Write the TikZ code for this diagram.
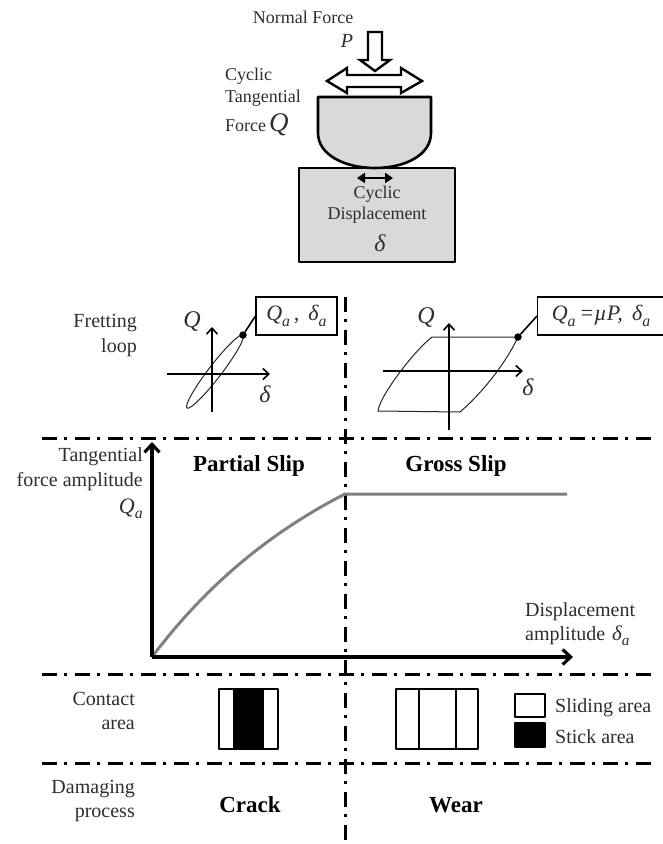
\documentclass[tikz,border=0pt]{standalone}
\usepackage{fontspec}
\setmainfont{Liberation Serif}
\usetikzlibrary{arrows.meta}
\newcommand{\lowsub}[1]{\raisebox{-0.25em}{\scalebox{0.72}{\textit{#1}}}}
\definecolor{txt}{gray}{0.18}
\definecolor{bodygray}{gray}{0.85}
\tikzset{
  lbl/.style={inner sep=0pt,text=txt,font=\fontsize{18}{20}\selectfont},
  lbig/.style={inner sep=0pt,text=txt,font=\fontsize{20}{22}\selectfont},
  lblr/.style={lbig,anchor=east},
  lbll/.style={lbig,anchor=west},
  sym/.style={inner sep=0pt,text=txt,font=\fontsize{24}{26}\selectfont\itshape},
  head/.style={inner sep=0pt,text=black,font=\fontsize{23}{25}\selectfont\bfseries},
  sep/.style={line width=3pt,dash pattern=on 15pt off 7pt on 3pt off 8pt},
  solidbody/.style={draw=black,line width=2.6pt,fill=bodygray,line join=round},
  hollow/.style={draw=black,line width=2.4pt,fill=white,line join=miter},
  axis/.style={draw=black,line width=1.6pt,-{Straight Barb[length=6pt,width=11pt]}},
  bigaxis/.style={draw=black,line width=3.2pt,-{Straight Barb[length=8pt,width=15pt]}},
  loopcurve/.style={draw=black!85,line width=1pt},
  leader/.style={draw=black,line width=1.6pt},
  ptdot/.style={circle,fill=black,inner sep=0pt,minimum size=7.5pt},
  valbox/.style={draw=black,line width=1.1pt,fill=white,inner sep=0pt,text=txt,font=\fontsize{22}{24}\selectfont\itshape},
  cell/.style={draw=black,line width=2pt,line join=round},
}
\begin{document}
\begin{tikzpicture}[x=1pt,y=-1pt]
\useasboundingbox (0,0) rectangle (662,844);
% top specimen
\draw[solidbody] (299,168) rectangle (455,262);
\draw[solidbody] (318,97) -- (431,97) -- (431,133)
  .. controls (431,155) and (405,168) .. (375,168)
  .. controls (345,168) and (318,155) .. (318,133) -- cycle;
\draw[hollow] (327,81) -- (347,68) -- (347,75) -- (401,75) -- (401,68) -- (422,81)
  -- (401,93) -- (401,87) -- (347,87) -- (347,93) -- cycle;
\draw[hollow] (368,32) -- (382,32) -- (382,60) -- (390,60) -- (375,71) -- (360,60) -- (368,60) -- cycle;
\coordinate (dispL) at (357,178);
\coordinate (dispR) at (393,178);
\draw[line width=2.4pt,{Triangle[length=8pt,width=10pt]}-{Triangle[length=8pt,width=10pt]}] (dispL) -- (dispR);
\node[lbl] (normal) at (303,17) {Normal Force};
\node[sym,font=\fontsize{20}{22}\selectfont\itshape] (pl) at (347,41) {P};
\node[lbl,anchor=west] (cy1) at (225,76) {Cyclic};
\node[lbl,anchor=west] (cy2) at (225,98) {Tangential};
\node[lbl,anchor=west] (cy3) at (225,125) {Force\,\fontsize{27}{29}\selectfont\itshape Q};
\node[lbl] (cd1) at (377,194) {Cyclic};
\node[lbl] (cd2) at (377,215) {Displacement};
\node[sym] (cd3) at (380,243) {δ};
% separators
\coordinate (h1a) at (42,438); \coordinate (h1b) at (653,438);
\coordinate (h2a) at (42,674); \coordinate (h2b) at (653,674);
\coordinate (h3a) at (42,763); \coordinate (h3b) at (653,763);
\coordinate (va) at (345,297); \coordinate (vb) at (345,844);
\draw[sep] (h1a) -- (h1b);
\draw[sep] (h2a) -- (h2b);
\draw[sep] (h3a) -- (h3b);
\draw[sep] (va) -- (vb);
% fretting loop row
\node[lblr] (fl1) at (137,323) {Fretting};
\node[lblr] (fl2) at (137,348) {loop};
\draw[loopcurve] (215,371.5) ellipse[x radius=46pt,y radius=6.5pt,rotate=52.5];
\coordinate (ax1a) at (212,412); \coordinate (ax1b) at (212,327);
\coordinate (ax1c) at (167,374); \coordinate (ax1d) at (270,374);
\draw[axis] (ax1a) -- (ax1b);
\draw[axis] (ax1c) -- (ax1d);
\node[sym] (q1) at (192,321) {Q};
\node[sym] (d1) at (265,394) {δ};
\node[valbox,minimum width=81pt,minimum height=38pt] (b1) at (296.5,316) {Q\lowsub{a}\,,\ \,δ\lowsub{a}\hspace{3pt}};
\node[ptdot] (p1) at (243,335) {};
\draw[leader] (p1) -- (b1.west);
% right loop
\draw[loopcurve] (432,337) -- (518,337)
  .. controls (505,365) and (480,395) .. (460,412)
  -- (378,411) .. controls (380,395) and (415,350) .. (432,337);
\coordinate (ax2a) at (449,430); \coordinate (ax2b) at (449,323);
\coordinate (ax2c) at (383,371); \coordinate (ax2d) at (523,371);
\draw[axis] (ax2a) -- (ax2b);
\draw[axis] (ax2c) -- (ax2d);
\node[sym] (q2) at (426,317) {Q};
\node[sym] (d2) at (528,387) {δ};
\node[valbox,minimum width=127pt,minimum height=38pt,anchor=west] (b2) at (537,316) {Q\lowsub{a}\,=\textit{µP},\ \,δ\lowsub{a}\hspace{12pt}};
\node[ptdot] (p2) at (518,337) {};
\draw[leader] (p2) -- (b2.west);
% main chart
\node[lblr] (t1) at (143,457) {Tangential};
\node[lblr] (t2) at (143,482) {force amplitude};
\node[sym,font=\fontsize{22}{24}\selectfont\itshape,anchor=east] (t3) at (143,509) {Q\lowsub{a}};
\node[head] (ps) at (249,466) {Partial Slip};
\node[head] (gs) at (456,466) {Gross Slip};
\coordinate (o) at (152,657);
\coordinate (yt) at (152,442);
\coordinate (xt) at (573,657);
\coordinate (kink) at (345,494);
\coordinate (cend) at (567,494);
\draw[draw=black!50,line width=3pt,line join=round] (o) .. controls (195,600) and (255,540) .. (kink) -- (cend);
\draw[bigaxis] (o) -- (yt);
\draw[bigaxis] (o) -- (xt);
\node[lbll] (x1) at (525,612) {Displacement};
\node[lbll] (x2) at (525,636) {amplitude\hspace{7pt}\fontsize{21}{23}\selectfont\itshape δ\lowsub{a}};
% contact row
\node[lblr] (ca1) at (135,699) {Contact};
\node[lblr] (ca2) at (135,725) {area};
\fill[black] (233,689) rectangle (264,749);
\draw[cell] (219,689) rectangle (278,749);
\draw[cell] (396,689) rectangle (478,749);
\draw[cell] (419,689) -- (419,749);
\draw[cell] (456,689) -- (456,749);
\draw[cell] (515,694) rectangle (545,717);
\draw[cell,fill=black] (515,723) rectangle (545,747);
\node[lbll] (sl) at (555,708) {Sliding area};
\node[lbll] (st) at (555,737) {Stick area};
% damage row
\node[lblr] (da1) at (135,789) {Damaging};
\node[lblr] (da2) at (135,815) {process};
\node[head] (cr) at (250,805) {Crack};
\node[head] (we) at (456,805) {Wear};
\end{tikzpicture}
\end{document}
